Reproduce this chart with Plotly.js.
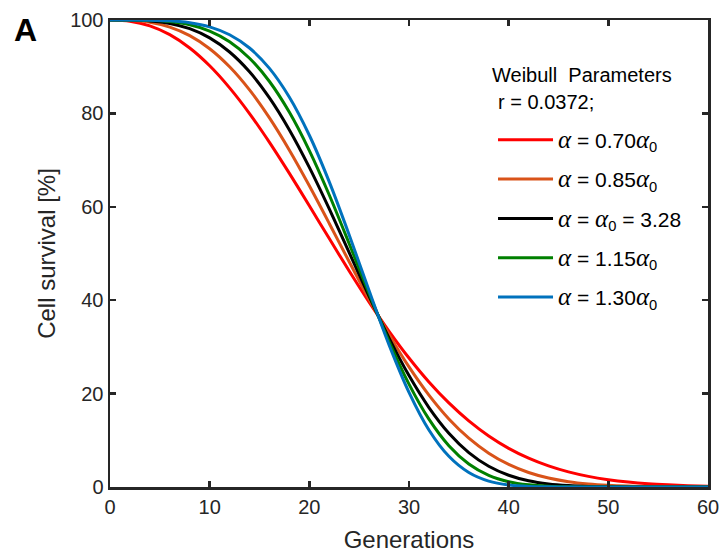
<!DOCTYPE html>
<html>
<head>
<meta charset="utf-8">
<script src="https://cdn.plot.ly/plotly-3.0.1.min.js"></script>
<style>html,body{margin:0;padding:0;background:#fff;}#chart{width:723px;height:556px;}</style>
</head>
<body>
<div id="chart"></div>
<script>
// Generations (x)
var generations = [0,2,4,6,8,10,12,14,16,18,20,22,24,26,28,30,32,34,36,38,40,42,44,46,48,50,52,54,56,58,60];

// Cell survival [%]
var survival070 = [100,99.74,98.75,96.86,94.00,90.19,85.47,79.97,73.80,67.15,60.22,53.20,46.27,39.60,33.35,27.62,22.49,18.00,14.15,10.93,8.28,6.17,4.51,3.23,2.27,1.57,1.06,0.70,0.46,0.29,0.18];
var survival085 = [100,99.93,99.51,98.48,96.65,93.85,89.98,85.03,79.03,72.12,64.50,56.44,48.24,40.20,32.62,25.72,19.68,14.58,10.46,7.25,4.84,3.11,1.92,1.14,0.65,0.36,0.19,0.09,0.04,0.02,0.01];
var survival100 = [100,99.98,99.81,99.27,98.14,96.17,93.15,88.91,83.33,76.47,68.45,59.56,50.19,40.80,31.88,23.85,17.02,11.52,7.38,4.45,2.52,1.33,0.65,0.30,0.12,0.05,0.02,0.01,0,0,0];
var survival115 = [100,99.99,99.92,99.65,98.97,97.63,95.34,91.82,86.83,80.23,72.05,62.53,52.10,41.40,31.15,22.03,14.52,8.84,4.93,2.50,1.14,0.46,0.16,0.05,0.01,0,0,0,0,0,0];
var survival130 = [100,100,99.97,99.83,99.43,98.54,96.84,94.00,89.64,83.46,75.32,65.34,53.98,42.00,30.43,20.26,12.21,6.57,3.10,1.26,0.43,0.12,0.03,0,0,0,0,0,0,0,0];

var A = '<i><span style="font-family:\'Liberation Serif\',serif;font-size:25px">α</span></i>';
var S0 = '<sub>0</sub>';
var seriesNames = [
  A + ' = 0.70' + A + S0,
  A + ' = 0.85' + A + S0,
  A + ' = ' + A + S0 + ' = 3.28',
  A + ' = 1.15' + A + S0,
  A + ' = 1.30' + A + S0
];
var seriesValues = [survival070, survival085, survival100, survival115, survival130];
var seriesColors = ['#ff0000', '#d95319', '#000000', '#008000', '#0072bd'];

var xTicks = [0,10,20,30,40,50,60];
var yTicks = [0,20,40,60,80,100];

var traces = seriesValues.map(function (vals, i) {
  return {
    x: generations,
    y: vals,
    type: 'scatter',
    mode: 'lines',
    name: seriesNames[i],
    legendgroup: 'g' + i,
    line: {color: seriesColors[i], width: 3, shape: 'spline', smoothing: 0.8}
  };
});

var axisColor = '#262626';
var layout = {
  width: 723,
  height: 556,
  margin: {l: 110, r: 15, t: 20, b: 69},
  paper_bgcolor: '#ffffff',
  plot_bgcolor: '#ffffff',
  font: {family: 'Liberation Sans, Arial, sans-serif', size: 20, color: axisColor},
  showlegend: true,
  legend: {
    x: 0.6405, y: 0.7866, xanchor: 'left', yanchor: 'top',
    bgcolor: 'rgba(0,0,0,0)',
    borderwidth: 0,
    itemwidth: 55,
    font: {size: 21, color: '#000000'},
    tracegroupgap: 9
  },
  xaxis: {
    range: [0, 60],
    tickvals: xTicks,
    ticktext: xTicks.map(String),
    ticks: 'inside', ticklen: 6, tickwidth: 2.5, tickcolor: axisColor,
    showline: true, linecolor: axisColor, linewidth: 2.5, mirror: 'ticks',
    showgrid: false, zeroline: false,
    tickfont: {size: 20, color: axisColor},
    title: {text: 'Generations', font: {size: 24, color: axisColor}, standoff: 15}
  },
  yaxis: {
    range: [0, 100],
    tickvals: yTicks,
    ticktext: yTicks.map(String),
    ticks: 'inside', ticklen: 6, tickwidth: 2.5, tickcolor: axisColor,
    showline: true, linecolor: axisColor, linewidth: 2.5, mirror: 'ticks',
    showgrid: false, zeroline: false,
    tickfont: {size: 20, color: axisColor},
    title: {text: 'Cell survival [%]', font: {size: 24, color: axisColor}, standoff: 8}
  },
  annotations: [
    {
      text: '<b>A</b>', xref: 'paper', yref: 'paper',
      x: -0.1421, y: 0.9786, xanchor: 'center', yanchor: 'middle',
      showarrow: false, font: {size: 32, color: '#000000', family: 'Liberation Sans, Arial, sans-serif'}
    },
    {
      text: 'Weibull  Parameters', xref: 'paper', yref: 'paper',
      x: 0.636, y: 0.8822, xanchor: 'left', yanchor: 'middle',
      showarrow: false, font: {size: 20, color: '#000000'}
    },
    {
      text: 'r = 0.0372;', xref: 'paper', yref: 'paper',
      x: 0.645, y: 0.8244, xanchor: 'left', yanchor: 'middle',
      showarrow: false, font: {size: 20, color: '#000000'}
    }
  ]
};

Plotly.newPlot('chart', traces, layout, {displayModeBar: false, staticPlot: true});
</script>
</body>
</html>
